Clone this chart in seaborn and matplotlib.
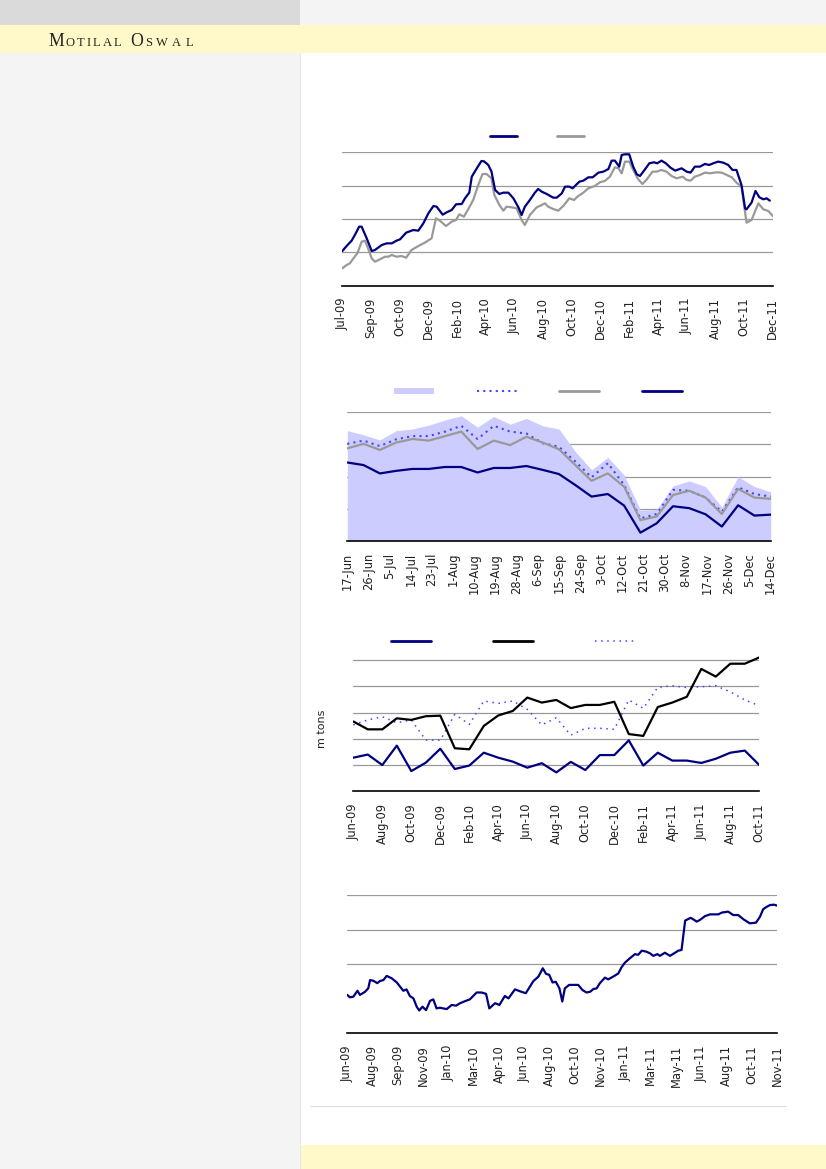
import numpy as np
import matplotlib
matplotlib.use("Agg")
import matplotlib.pyplot as plt
import matplotlib.patches as mpatches
from matplotlib.lines import Line2D
import seaborn as sns

sns.set_style("white")
plt.rcParams['font.family'] = ['DejaVu Sans']

# ---- chart 1 data (weekly, Jul-09 .. Dec-11) ----
c1_ticks = ['Jul-09', 'Sep-09', 'Oct-09', 'Dec-09', 'Feb-10', 'Apr-10', 'Jun-10', 'Aug-10',
            'Oct-10', 'Dec-10', 'Feb-11', 'Apr-11', 'Jun-11', 'Aug-11', 'Oct-11', 'Dec-11']
c1_navy_wk = [0, 1.2, 2.6, 3.5, 4.7, 5.4, 6.8, 8.2, 9.1, 11,
              12.4, 13.8, 15.1, 16.1, 17.8, 19.8, 21.2, 22.6, 24, 25.4,
              26.3, 28, 29.1, 30.5, 31.7, 33.3, 34.2, 35.4, 36.1, 37.5,
              38.8, 39.5, 40.7, 41.6, 42.6, 43.8, 44.9, 46.3, 47.7, 49.1,
              50, 50.9, 52.3, 53.7, 54.6, 55.6, 57, 58.8, 59.8, 61.2,
              62.1, 63.3, 64.2, 66.1, 67.2, 68.6, 69.8, 71.4, 72.8, 74.2,
              75.1, 76, 77.2, 77.9, 78.8, 80, 81.1, 82.1, 83, 84.4,
              85.6, 86.9, 87.8, 89, 90.2, 91.5, 92.8, 94.6, 96, 97.1,
              98.3, 99.7, 101.1, 102.3, 103.4, 104.8, 106.2, 107.6, 108.8, 109.9,
              111.3, 112.3, 112.7, 114.1, 115.2, 116.3, 117.4, 118.3, 119.2]
c1_navy = [1.04, 1.19, 1.35, 1.52, 1.77, 1.77, 1.42, 1.04, 1.07, 1.22,
           1.27, 1.27, 1.35, 1.39, 1.59, 1.67, 1.65, 1.87, 2.17, 2.39,
           2.37, 2.13, 2.2, 2.27, 2.44, 2.45, 2.62, 2.79, 3.27, 3.52,
           3.74, 3.73, 3.62, 3.42, 2.87, 2.75, 2.79, 2.79, 2.62, 2.35,
           2.12, 2.37, 2.57, 2.79, 2.9, 2.82, 2.75, 2.64, 2.64, 2.77,
           2.97, 2.97, 2.92, 3.12, 3.15, 3.25, 3.25, 3.39, 3.42, 3.5,
           3.75, 3.75, 3.57, 3.92, 3.94, 3.94, 3.57, 3.34, 3.29, 3.49,
           3.67, 3.7, 3.67, 3.75, 3.67, 3.54, 3.45, 3.52, 3.42, 3.39,
           3.57, 3.57, 3.65, 3.62, 3.67, 3.72, 3.69, 3.62, 3.47, 3.47,
           3.02, 2.32, 2.29, 2.49, 2.84, 2.65, 2.59, 2.62, 2.55]
c1_gray_wk = [0, 1.2, 2.1, 3.1, 4.2, 5.4, 6.3, 7.2, 8.2, 9.1,
              10.5, 11.9, 12.8, 13.8, 15.1, 16.5, 17.8, 19.3, 21.2, 23,
              24.9, 26.1, 27.2, 28.9, 30.5, 31.7, 32.6, 33.9, 35.1, 36.5,
              37.9, 39.1, 40.2, 41.6, 42.4, 43.8, 44.9, 45.8, 47.2, 48.6,
              50, 50.9, 52.3, 54.2, 55.6, 56.5, 57.4, 59, 60.2, 61.6,
              63.3, 64.6, 65.8, 67.2, 68.6, 70.4, 71.8, 73.2, 74.6, 76,
              77, 77.9, 78.8, 80, 81.1, 82.5, 83.7, 84.9, 86.5, 87.6,
              89, 90.4, 91.8, 93.2, 94.9, 96, 97.1, 98.3, 99.7, 101.1,
              102.5, 104.4, 105.8, 107.2, 108.6, 109.9, 111.3, 112.7, 114.1, 116,
              117.4, 118.8, 120]
c1_gray = [0.52, 0.62, 0.67, 0.82, 0.97, 1.32, 1.35, 1.12, 0.82, 0.72,
           0.79, 0.87, 0.87, 0.92, 0.87, 0.89, 0.84, 1.07, 1.19, 1.29,
           1.42, 2.02, 1.95, 1.79, 1.92, 1.97, 2.14, 2.07, 2.29, 2.57,
           3.02, 3.35, 3.35, 3.22, 2.72, 2.42, 2.25, 2.37, 2.35, 2.32,
           1.97, 1.82, 2.12, 2.35, 2.42, 2.47, 2.37, 2.29, 2.25, 2.39,
           2.62, 2.57, 2.69, 2.79, 2.92, 2.99, 3.1, 3.14, 3.27, 3.55,
           3.52, 3.37, 3.72, 3.72, 3.47, 3.19, 3.05, 3.19, 3.42, 3.42,
           3.47, 3.42, 3.29, 3.22, 3.27, 3.17, 3.15, 3.27, 3.32, 3.39,
           3.37, 3.4, 3.39, 3.32, 3.25, 3.09, 2.97, 1.89, 1.97, 2.47,
           2.29, 2.24, 2.09]

# ---- chart 2 data (weekly, 17-Jun .. 14-Dec) ----
c2_ticks = ['17-Jun', '26-Jun', '5-Jul', '14-Jul', '23-Jul', '1-Aug', '10-Aug', '19-Aug',
            '28-Aug', '6-Sep', '15-Sep', '24-Sep', '3-Oct', '12-Oct', '21-Oct', '30-Oct',
            '8-Nov', '17-Nov', '26-Nov', '5-Dec', '14-Dec']
c2_week = list(range(27))
c2_fill = [3.43, 3.30, 3.14, 3.43, 3.48, 3.60, 3.76, 3.89, 3.54, 3.87, 3.63, 3.81, 3.58, 3.48,
           2.78, 2.21, 2.60, 2.05, 0.96, 0.98, 1.71, 1.87, 1.69, 1.05, 2.00, 1.69, 1.53]
c2_dotted = [3.02, 3.12, 2.95, 3.16, 3.26, 3.26, 3.40, 3.58, 3.17, 3.58, 3.40, 3.34, 3.04, 2.93,
             2.47, 1.98, 2.42, 1.74, 0.70, 0.84, 1.59, 1.56, 1.35, 0.91, 1.67, 1.46, 1.38]
c2_gray = [2.88, 3.02, 2.83, 3.06, 3.17, 3.12, 3.26, 3.40, 2.86, 3.12, 2.98, 3.24, 3.06, 2.85,
           2.36, 1.87, 2.10, 1.69, 0.65, 0.76, 1.43, 1.56, 1.35, 0.84, 1.62, 1.35, 1.31]
c2_navy = [2.44, 2.36, 2.10, 2.18, 2.24, 2.24, 2.30, 2.30, 2.13, 2.27, 2.27, 2.33, 2.21, 2.08,
           1.74, 1.38, 1.46, 1.10, 0.26, 0.55, 1.08, 1.02, 0.83, 0.45, 1.11, 0.79, 0.82]

# ---- chart 3 data (monthly, Jun-09 .. Oct-11), m tons ----
c3_ticks = ['Jun-09', 'Aug-09', 'Oct-09', 'Dec-09', 'Feb-10', 'Apr-10', 'Jun-10', 'Aug-10',
            'Oct-10', 'Dec-10', 'Feb-11', 'Apr-11', 'Jun-11', 'Aug-11', 'Oct-11']
c3_month = list(range(29))
c3_navy = [1.28, 1.40, 1.00, 1.74, 0.77, 1.09, 1.62, 0.85, 0.98, 1.47, 1.28, 1.13, 0.90, 1.07,
           0.72, 1.12, 0.81, 1.38, 1.38, 1.94, 0.98, 1.47, 1.17, 1.17, 1.08, 1.24, 1.47, 1.55, 1.00]
c3_black = [2.66, 2.36, 2.36, 2.78, 2.72, 2.86, 2.88, 1.64, 1.60, 2.49, 2.89, 3.06, 3.57, 3.38,
            3.48, 3.17, 3.29, 3.29, 3.41, 2.18, 2.11, 3.21, 3.38, 3.60, 4.66, 4.37, 4.86, 4.86, 5.10]
c3_dotted = [2.53, 2.72, 2.84, 2.61, 2.72, 1.95, 1.95, 2.93, 2.55, 3.44, 3.35, 3.44, 3.12, 2.53,
             2.80, 2.14, 2.40, 2.40, 2.36, 3.48, 3.16, 3.96, 4.02, 3.95, 3.98, 4.02, 3.79, 3.48, 3.26]

# ---- chart 4 data (weekly, Jun-09 .. Nov-11) ----
c4_ticks = ['Jun-09', 'Aug-09', 'Sep-09', 'Nov-09', 'Jan-10', 'Mar-10', 'Apr-10', 'Jun-10',
            'Aug-10', 'Oct-10', 'Nov-10', 'Jan-11', 'Mar-11', 'May-11', 'Jun-11', 'Aug-11',
            'Oct-11', 'Nov-11']
c4_wk = [0, 0.7, 1.7, 2.8, 3.5, 4.9, 5.8, 6.3, 7.2, 8.3,
         9.0, 10.0, 10.9, 12.3, 13.7, 14.6, 15.5, 16.4, 17.3, 18.3,
         19.2, 19.9, 20.8, 21.8, 22.9, 23.8, 24.7, 25.6, 27.5, 28.9,
         30.1, 31.2, 32.6, 33.9, 35.8, 37.2, 38.4, 39.3, 40.9, 42.1,
         43.6, 44.6, 46.4, 48.2, 49.4, 51.5, 52.9, 54.1, 55.0, 55.9,
         56.8, 57.7, 58.7, 59.5, 60.2, 61.4, 63.9, 65.1, 66.2, 67.2,
         68.1, 69.0, 69.9, 71.3, 72.2, 73.6, 75.0, 75.9, 76.8, 78.2,
         79.6, 80.5, 81.5, 82.8, 83.8, 84.7, 85.8, 86.5, 87.9, 89.3,
         90.7, 91.6, 92.5, 93.5, 95.0, 95.7, 96.7, 97.6, 99.0, 100.4,
         102.7, 103.6, 105.4, 106.8, 108.2, 109.6, 111.4, 113.1, 114.2, 115.1,
         116.1, 117.0, 118.1, 119.0]
c4_vals = [1.11, 1.04, 1.06, 1.23, 1.11, 1.20, 1.30, 1.54, 1.52, 1.45,
           1.51, 1.54, 1.66, 1.59, 1.47, 1.35, 1.23, 1.27, 1.08, 1.01,
           0.77, 0.66, 0.77, 0.67, 0.94, 0.98, 0.72, 0.74, 0.70, 0.82,
           0.80, 0.87, 0.93, 0.98, 1.18, 1.18, 1.14, 0.72, 0.87, 0.82,
           1.08, 1.01, 1.27, 1.20, 1.16, 1.51, 1.64, 1.88, 1.72, 1.69,
           1.47, 1.49, 1.30, 0.92, 1.30, 1.40, 1.40, 1.25, 1.18, 1.20,
           1.28, 1.30, 1.45, 1.61, 1.56, 1.64, 1.73, 1.91, 2.04, 2.17,
           2.29, 2.27, 2.39, 2.36, 2.31, 2.24, 2.29, 2.24, 2.33, 2.24,
           2.33, 2.39, 2.41, 3.26, 3.34, 3.30, 3.23, 3.28, 3.39, 3.44,
           3.44, 3.49, 3.52, 3.42, 3.42, 3.30, 3.18, 3.20, 3.37, 3.59,
           3.66, 3.71, 3.72, 3.69]

NAVY = '#000080'
GREY = '#999999'
DOTBLUE = '#4444ff'
LAVENDER = '#ccccff'

W, H = 826, 1169
fig = plt.figure(figsize=(W / 100, H / 100), dpi=100)
fig.patch.set_facecolor('white')


def rect(x0, y0, x1, y1, color):
    fig.patches.append(mpatches.Rectangle((x0 / W, 1 - y1 / H), (x1 - x0) / W, (y1 - y0) / H,
                                          transform=fig.transFigure, color=color, lw=0, zorder=-10))


# page furniture
rect(0, 0, 300, 25, '#dadada')
rect(300, 0, W, 25, '#f4f4f4')
rect(0, 25, W, 53, '#fff8c8')
rect(0, 53, 300, H, '#f4f4f4')
rect(300, 53, 301, H, '#e6e6e6')
rect(301, 1145, W, H, '#fff8c8')
rect(310, 1105.5, 787, 1107, '#dddddd')


def spaced(x, y, s, size, gap):
    r = fig.canvas.get_renderer()
    for ch in s:
        t = fig.text(x / W, 1 - y / H, ch, fontsize=size, family='Liberation Serif',
                     color='#222222', va='baseline', ha='left')
        x += t.get_window_extent(r).width + gap
    return x


x = spaced(48, 45.7, 'M', 12.8, 1.5)
x = spaced(x, 45.7, 'OTILAL', 9.0, 2.2)
x = spaced(x + 7, 45.7, 'O', 12.8, 1.5)
spaced(x, 45.7, 'SWAL', 9.0, 4.3)


def make_ax(x0, y0, x1, y1):
    ax = fig.add_axes([x0 / W, 1 - y1 / H, (x1 - x0) / W, (y1 - y0) / H])
    ax.set_facecolor('none')
    for s in ['top', 'left', 'right']:
        ax.spines[s].set_visible(False)
    ax.spines['bottom'].set_color('black')
    ax.spines['bottom'].set_linewidth(1.2)
    ax.spines['bottom'].set_zorder(5)
    ax.yaxis.grid(True, color=GREY, linewidth=0.9)
    ax.set_axisbelow(True)
    ax.tick_params(left=False, labelleft=False, bottom=False, pad=5)
    return ax


def set_x(ax, ticks, labels, lo, hi):
    ax.set_xlim(lo, hi)
    ax.set_xticks(ticks)
    ax.set_xticklabels(labels, rotation=90, fontsize=8.3, color='#222222')
    ax.set_xlabel('')
    ax.set_ylabel('')


def legend(ax, handles, x0, y, hlen, gap, hh=0.7):
    px = 8 * 100 / 72
    ax.legend(handles, [''] * len(handles), ncol=len(handles), frameon=False, loc='center left',
              bbox_to_anchor=(x0 / W, 1 - y / H), bbox_transform=fig.transFigure,
              handlelength=hlen / px, handletextpad=0, columnspacing=gap / px,
              borderpad=0, borderaxespad=0, fontsize=8, handleheight=hh)


# chart 1
ax1 = make_ax(342.3, 152.3, 772.7, 285.7)
sns.lineplot(x=c1_gray_wk, y=c1_gray, ax=ax1, color=GREY, linewidth=1.6)
sns.lineplot(x=c1_navy_wk, y=c1_navy, ax=ax1, color=NAVY, linewidth=1.6)
ax1.set_ylim(0, 4)
ax1.set_yticks([1, 2, 3, 4])
set_x(ax1, np.arange(0, 121, 8), c1_ticks, 0, 120)
legend(ax1, [Line2D([], [], color=NAVY, lw=2), Line2D([], [], color=GREY, lw=2)],
       490, 137, 27, 40)

# chart 2
ax2 = make_ax(347.3, 412.3, 770.7, 541)
ax2.fill_between(c2_week, 0, c2_fill, color=LAVENDER, lw=0, zorder=1)
sns.lineplot(x=c2_week, y=c2_dotted, ax=ax2, color=DOTBLUE, linewidth=1.5, linestyle=(0, (1, 2)))
sns.lineplot(x=c2_week, y=c2_gray, ax=ax2, color=GREY, linewidth=1.6)
sns.lineplot(x=c2_week, y=c2_navy, ax=ax2, color=NAVY, linewidth=1.6)
ax2.set_ylim(0, 4)
ax2.set_yticks([1, 2, 3, 4])
set_x(ax2, np.linspace(0, 26, 21), c2_ticks, 0, 26)
legend(ax2, [mpatches.Patch(color=LAVENDER, lw=0),
             Line2D([], [], color=DOTBLUE, lw=1.5, ls=(0, (1, 2))),
             Line2D([], [], color=GREY, lw=2), Line2D([], [], color=NAVY, lw=2)],
       394, 392, 40, 42.5, hh=0.55)

# chart 3
ax3 = make_ax(353.3, 656.1, 759.3, 791.3)
sns.lineplot(x=c3_month, y=c3_dotted, ax=ax3, color=DOTBLUE, linewidth=1.1, linestyle=(0, (1, 3)))
sns.lineplot(x=c3_month, y=c3_black, ax=ax3, color='black', linewidth=1.6)
sns.lineplot(x=c3_month, y=c3_navy, ax=ax3, color=NAVY, linewidth=1.6)
ax3.set_ylim(0, 5.15)
ax3.set_yticks([1, 2, 3, 4, 5])
set_x(ax3, np.arange(0, 29, 2), c3_ticks, 0, 28)
fig.text(321.7 / W, 1 - 729 / H, 'm tons', rotation=90, ha='center', va='center',
         fontsize=8, color='#222222')
legend(ax3, [Line2D([], [], color=NAVY, lw=2), Line2D([], [], color='black', lw=2),
             Line2D([], [], color=DOTBLUE, lw=1.1, ls=(0, (1, 3)))],
       390.7, 641.7, 40, 62)

# chart 4
ax4 = make_ax(347.3, 895, 777.3, 1033.3)
sns.lineplot(x=c4_wk, y=c4_vals, ax=ax4, color=NAVY, linewidth=1.6)
ax4.set_ylim(0, 4)
ax4.set_yticks([2, 3, 4])
set_x(ax4, np.arange(0, 120, 7), c4_ticks, 0, 119)

fig.savefig('out.png', dpi=100, facecolor=fig.get_facecolor())
